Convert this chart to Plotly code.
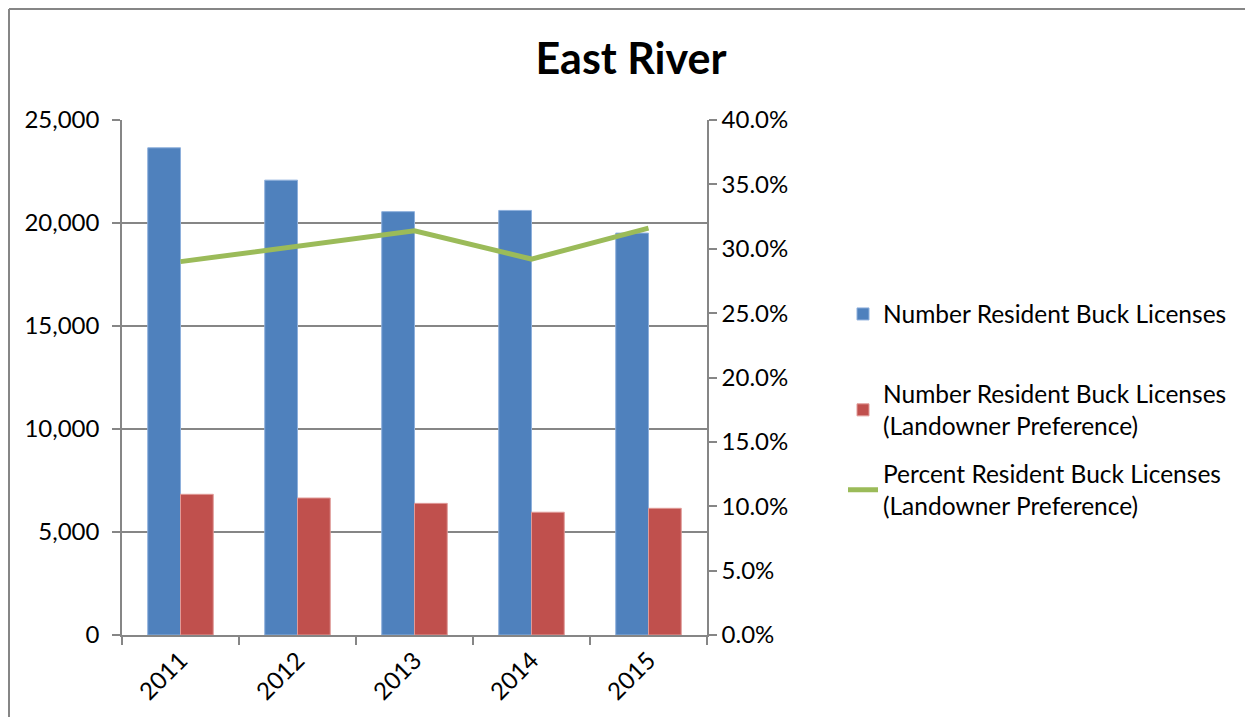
import plotly.graph_objects as go

years = ["2011", "2012", "2013", "2014", "2015"]
resident_buck = [23650, 22080, 20550, 20610, 19510]
landowner_buck = [6830, 6650, 6390, 5960, 6150]
landowner_pct = [0.290, 0.302, 0.314, 0.292, 0.316]

name_blue = "Number Resident Buck Licenses"
name_red = "Number Resident Buck Licenses<br>(Landowner Preference)"
name_green = "Percent Resident Buck Licenses<br>(Landowner Preference)"

FONT = "Lato"
OFF = 8  # default body margin of the html page
W, H = 1253 - 2 * OFF, 725 - 2 * OFF
# plot area in page pixels
L, R, T, B = 122, 707, 120, 635

pw = R - L
ph = B - T
def px_x(p):
    return (p - L) / pw
def px_y(p):
    return (B - p) / ph

fig = go.Figure()
fig.add_trace(go.Bar(x=years, y=resident_buck, name=name_blue, showlegend=True,
                     marker=dict(color="#4F81BD", line=dict(color="#8EB0DC", width=1)),
                     legend="legend"))
fig.add_trace(go.Bar(x=years, y=landowner_buck, name=name_red, showlegend=True,
                     marker=dict(color="#C0504D", line=dict(color="#E09A98", width=1)),
                     legend="legend2"))
fig.add_trace(go.Scatter(x=years, y=landowner_pct, name=name_green, yaxis="y2",
                         mode="lines", line=dict(color="#9BBB59", width=5),
                         showlegend=True, legend="legend3"))

leg_common = dict(font=dict(family=FONT, size=24.5, color="#000000"),
                  bgcolor="rgba(0,0,0,0)", xanchor="left", yanchor="middle",
                  x=px_x(843), tracegroupgap=0, itemwidth=30, visible=True)

tick_font = dict(family=FONT, size=24, color="#000000")

border = dict(color="#868686", width=2)

fig.update_layout(
    width=W, height=H,
    showlegend=True,
    margin=dict(l=L - OFF, r=W - (R - OFF), t=T - OFF, b=H - (B - OFF), pad=0),
    paper_bgcolor="white", plot_bgcolor="white",
    title=dict(text="<b>East River</b>", x=(631 - OFF) / W, xanchor="center",
               y=1 - (59 - OFF) / H, yanchor="middle",
               font=dict(family=FONT, size=43, color="#000000")),
    barmode="group", bargap=0.44, bargroupgap=0,
    font=dict(family=FONT, size=24, color="#000000"),
    xaxis=dict(type="category", tickson="boundaries", ticks="outside", ticklen=8,
               tickcolor="#868686", tickwidth=1.5, tickangle=-45,
               showline=True, linecolor="#868686", linewidth=1.5,
               showgrid=False, tickfont=tick_font),
    yaxis=dict(range=[0, 25000], tickvals=[0, 5000, 10000, 15000, 20000, 25000],
               tickformat=",d", ticks="outside", ticklen=8, tickcolor="#868686",
               tickwidth=1.5, showline=True, linecolor="#868686", linewidth=1.5,
               showgrid=True, gridcolor="#868686", gridwidth=1.5,
               zeroline=False, tickfont=tick_font, ticklabelstandoff=8),
    yaxis2=dict(range=[0, 0.40], tickvals=[0, 0.05, 0.10, 0.15, 0.20, 0.25, 0.30, 0.35, 0.40],
                tickformat=".1%", overlaying="y", side="right", ticks="outside",
                ticklen=8, tickcolor="#868686", tickwidth=1.5, showline=True,
                linecolor="#868686", linewidth=1.5, showgrid=False, zeroline=False,
                tickfont=tick_font),
    legend=dict(**leg_common, y=px_y(314)),
    legend2=dict(**leg_common, y=px_y(410)),
    legend3=dict(**leg_common, y=px_y(490)),
    shapes=[
        dict(type="line", xref="paper", yref="paper",
             x0=px_x(9), y0=px_y(9), x1=px_x(1253), y1=px_y(9), line=border, layer="below"),
        dict(type="line", xref="paper", yref="paper",
             x0=px_x(9), y0=px_y(9), x1=px_x(9), y1=px_y(725), line=border, layer="below"),
    ],
)

fig.write_html("out.html")
